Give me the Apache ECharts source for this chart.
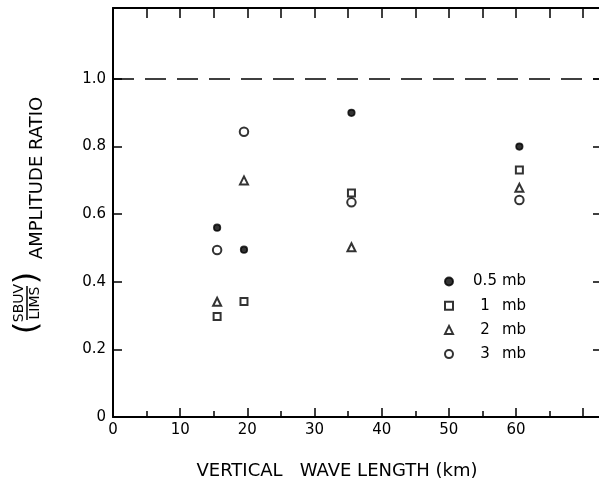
<!DOCTYPE html>
<html lang="en">
<head>
<meta charset="UTF-8">
<script src="https://cdn.jsdelivr.net/npm/echarts@6/dist/echarts.min.js"></script>
<style>
  html, body { margin: 0; padding: 0; background: #fff; }
  #chart { width: 599px; height: 480px; }
</style>
</head>
<body>
<div id="chart"></div>
<script>
// data
const levels = ['0.5 mb', '1 mb', '2 mb', '3 mb'];
const waveLength = [15.5, 19.5, 35.5, 60.5];
const ratio05 = [0.56, 0.495, 0.90, 0.80];
const ratio1 = [0.297, 0.342, 0.663, 0.731];
const ratio2 = [0.341, 0.70, 0.502, 0.678];
const ratio3 = [0.494, 0.844, 0.635, 0.642];
const yTicks = [0, 0.2, 0.4, 0.6, 0.8, 1.0];
const refLevel = 1.0;

const FONT = 'DejaVu Sans';
const chart = echarts.init(document.getElementById('chart'));

function pts(ys) {
  return waveLength.map((x, i) => [x, ys[i]]);
}

function frame() {
  return { show: true, onZero: false, lineStyle: { color: '#000', width: 2 } };
}

function scatter(name, symbol, size, ys) {
  return {
    name: name,
    type: 'scatter',
    symbol: symbol,
    symbolSize: size,
    itemStyle: { color: '#000', borderColor: '#000', borderWidth: 1.7 },
    data: pts(ys),
    z: 5
  };
}

const series = [
  scatter(levels[0], 'circle', 6.5, ratio05),
  scatter(levels[1], 'emptyRect', 7, ratio1),
  scatter(levels[2], 'emptyTriangle', 8, ratio2),
  scatter(levels[3], 'emptyCircle', 8.5, ratio3)
];
series[0].markLine = {
  silent: true,
  symbol: 'none',
  label: { show: false },
  lineStyle: { color: '#000', width: 1.5, type: [21, 11] },
  data: [{ yAxis: refLevel }]
};

const tickStyle = { color: '#000', width: 1.5 };
const X_MAX = 72.8;

chart.setOption({
  animation: false,
  backgroundColor: '#fff',
  // the right edge of the frame falls just outside the picture
  grid: { left: 113, top: 8, width: 489, height: 409, outerBoundsMode: 'none', containLabel: false },
  xAxis: [{
    type: 'value', position: 'bottom', min: 0, max: X_MAX, interval: 10,
    axisLine: frame(),
    axisTick: { inside: true, length: 9, lineStyle: tickStyle },
    minorTick: { show: true, splitNumber: 2, length: 6, lineStyle: tickStyle },
    axisLabel: {
      color: '#000', fontSize: 15, fontFamily: FONT, margin: 6,
      showMaxLabel: false,
      formatter: v => (v <= 60 ? String(v) : '')
    },
    splitLine: { show: false }
  }, {
    type: 'value', position: 'top', min: 0, max: X_MAX, interval: 5,
    axisLine: frame(),
    axisTick: { inside: true, length: 10, lineStyle: tickStyle },
    axisLabel: { show: false },
    splitLine: { show: false }
  }],
  yAxis: [{
    type: 'value', position: 'left', min: 0, max: 1.21, interval: 0.2,
    axisLine: frame(),
    axisTick: { inside: true, length: 9, customValues: yTicks, lineStyle: tickStyle },
    axisLabel: {
      color: '#000', fontSize: 15, fontFamily: FONT, margin: 7,
      customValues: yTicks,
      formatter: v => (v > 1.05 ? '' : (v === 0 ? '0' : v.toFixed(1)))
    },
    splitLine: { show: false }
  }, {
    type: 'value', position: 'right', min: 0, max: 1.21, interval: 0.2,
    axisLine: frame(),
    axisTick: { inside: true, length: 9, customValues: yTicks, lineStyle: tickStyle },
    axisLabel: { show: false },
    splitLine: { show: false }
  }],
  legend: {
    orient: 'vertical',
    left: 444,
    top: 274,
    padding: 0,
    itemWidth: 8,
    itemHeight: 8,
    itemGap: 9.2,
    data: levels,
    textStyle: {
      color: '#000', fontSize: 15, fontFamily: FONT,
      rich: {
        s: { width: 13, fontSize: 15 },
        n: { width: 28, align: 'center', fontSize: 15, fontFamily: FONT, color: '#000' },
        u: { padding: [0, 0, 0, 3], fontSize: 15, fontFamily: FONT, color: '#000' }
      }
    },
    formatter: name => {
      const p = name.split(' ');
      return '{s| }{n|' + p[0] + '}{u|' + p[1] + '}';
    }
  },
  graphic: [{
    type: 'group', x: 33, y: 303, rotation: Math.PI / 2,
    children: [
      { type: 'text', x: -25, y: -5, style: { text: '(', fontSize: 32, fontFamily: FONT, fill: '#000', align: 'center', verticalAlign: 'middle' } },
      { type: 'text', x: 25, y: -5, style: { text: ')', fontSize: 32, fontFamily: FONT, fill: '#000', align: 'center', verticalAlign: 'middle' } },
      { type: 'text', x: 0, y: -13.5, style: { text: 'SBUV', fontSize: 14, fontFamily: FONT, fill: '#000', align: 'center', verticalAlign: 'middle' } },
      { type: 'text', x: 0, y: 2.5, style: { text: 'LIMS', fontSize: 14, fontFamily: FONT, fill: '#000', align: 'center', verticalAlign: 'middle' } },
      { type: 'line', shape: { x1: -17, y1: -6, x2: 17, y2: -6 }, style: { stroke: '#000', lineWidth: 1.5 } },
      { type: 'text', x: 125, y: 4.5, style: { text: 'AMPLITUDE RATIO', fontSize: 18, fontFamily: FONT, fill: '#000', align: 'center', verticalAlign: 'middle' } }
    ]
  }, {
    type: 'text', x: 337, y: 471,
    style: { text: 'VERTICAL   WAVE LENGTH (km)', fontSize: 18, fontFamily: FONT, fill: '#000', align: 'center', verticalAlign: 'middle' }
  }],
  series: series
});
</script>
</body>
</html>
